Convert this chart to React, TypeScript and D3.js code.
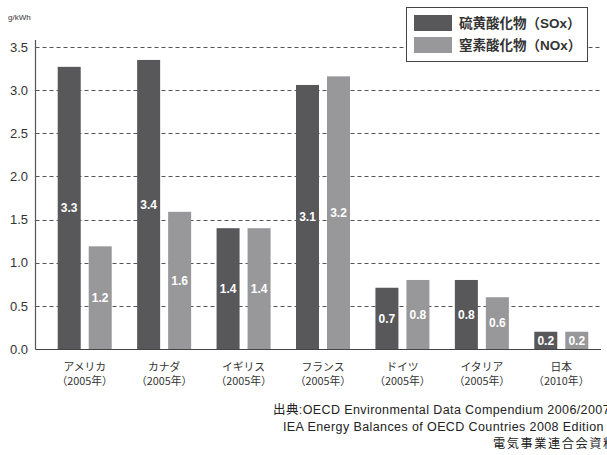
import React from "react";
import * as d3 from "d3";

// Emission intensity by country (g/kWh)
const countries = ["アメリカ", "カナダ", "イギリス", "フランス", "ドイツ", "イタリア", "日本"];
const years = ["（2005年）", "（2005年）", "（2005年）", "（2005年）", "（2005年）", "（2005年）", "（2010年）"];
const soxValues = [3.27, 3.35, 1.4, 3.06, 0.71, 0.8, 0.2];
const noxValues = [1.19, 1.59, 1.4, 3.16, 0.8, 0.6, 0.2];
const seriesKeys = ["sox", "nox"];
const seriesNames = ["硫黄酸化物（SOx）", "窒素酸化物（NOx）"];
const yTicks = [0, 0.5, 1.0, 1.5, 2.0, 2.5, 3.0, 3.5];
const unitLabel = "g/kWh";
const sourceLines = [
  "出典:OECD Environmental Data Compendium 2006/2007",
  "IEA Energy Balances of OECD Countries 2008 Edition",
  "電気事業連合会資料",
];

const W = 607;
const H = 455;
const colors: Record<string, string> = { sox: "#58585a", nox: "#98989b" };
const FONT = "'Liberation Sans', Arial, 'Noto Sans CJK JP', sans-serif";
const CJK_FONT = "'Noto Sans CJK JP', 'Liberation Sans', sans-serif";

// layout of the source note lines (left edge, letter spacing)
const sourceX = [273, 283, 493];
const sourceSpacing = [0.4, 0.4, 1.55];
const sourceSize = [12.5, 12.5, 12.2];

export default function App() {
  const axisX = 35.5;
  const plotRight = 601;
  const y = d3.scaleLinear().domain([0, 3.5]).range([349, 47]);
  const x = d3.scaleBand<string>().domain(countries).range([45, plotRight]).paddingInner(0.32).paddingOuter(0.16);
  const sub = d3.scaleBand<string>().domain(seriesKeys).range([0, x.bandwidth()]).paddingInner(8 / 31);
  const fmt = d3.format(".1f");

  const rows = countries.map((c, i) => ({ country: c, year: years[i], sox: soxValues[i], nox: noxValues[i] }));

  return (
    <svg width={W} height={H} style={{ position: "absolute", left: 0, top: 0, background: "#fff" }} fontFamily={FONT}>
      <text x={8} y={20} fontSize={8} fill="#333">{unitLabel}</text>

      {/* gridlines */}
      {yTicks.filter((t) => t > 0).map((t) => (
        <line key={t} x1={axisX} x2={plotRight} y1={Math.round(y(t)) + 0.5} y2={Math.round(y(t)) + 0.5}
          stroke="#555" strokeWidth={1} strokeDasharray="4,3" />
      ))}

      {/* y tick labels */}
      {yTicks.map((t) => (
        <text key={t} x={28} y={y(t)} dy="0.36em" textAnchor="end" fontSize={13} fill="#333">{fmt(t)}</text>
      ))}

      {/* bars */}
      {rows.map((r) => (
        <g key={r.country} transform={`translate(${x(r.country)},0)`}>
          {seriesKeys.map((k) => {
            const v = (r as any)[k] as number;
            const bx = sub(k)!;
            return (
              <g key={k}>
                <rect x={bx} y={y(v)} width={sub.bandwidth()} height={y(0) - y(v)} fill={colors[k]} />
                <text x={bx + sub.bandwidth() / 2} y={(y(v) + y(0)) / 2} dy="0.36em" textAnchor="middle"
                  fontSize={12} fontWeight="bold" fill="#fff">{fmt(v)}</text>
              </g>
            );
          })}
        </g>
      ))}

      {/* axes */}
      <line x1={axisX} x2={axisX} y1={40} y2={349.5} stroke="#555" strokeWidth={1.2} />
      <line x1={axisX} x2={plotRight} y1={349.5} y2={349.5} stroke="#444" strokeWidth={1.2} />

      {/* category labels */}
      {rows.map((r) => {
        const cx = x(r.country)! + x.bandwidth() / 2;
        return (
          <g key={r.country} fontSize={10.8} fill="#333" textAnchor="middle" fontFamily={CJK_FONT}>
            <text x={cx} y={370.5}>{r.country}</text>
            <text x={cx} y={385}>{r.year}</text>
          </g>
        );
      })}

      {/* legend */}
      <g>
        <rect x={406.5} y={7.5} width={181} height={54} fill="#fff" stroke="#444" strokeWidth={1} />
        {seriesKeys.map((k, i) => (
          <g key={k} transform={`translate(0,${i * 22})`}>
            <rect x={414} y={15} width={38} height={16} fill={colors[k]} />
            <text x={459} y={23} dy="0.36em" fontSize={13.5} fontWeight="bold" fill="#333">{seriesNames[i]}</text>
          </g>
        ))}
      </g>

      {/* source note */}
      {sourceLines.map((s, i) => (
        <text key={i} x={sourceX[i]} y={414 + i * 17} fontSize={sourceSize[i]} letterSpacing={sourceSpacing[i]} fill="#222">{s}</text>
      ))}
    </svg>
  );
}
